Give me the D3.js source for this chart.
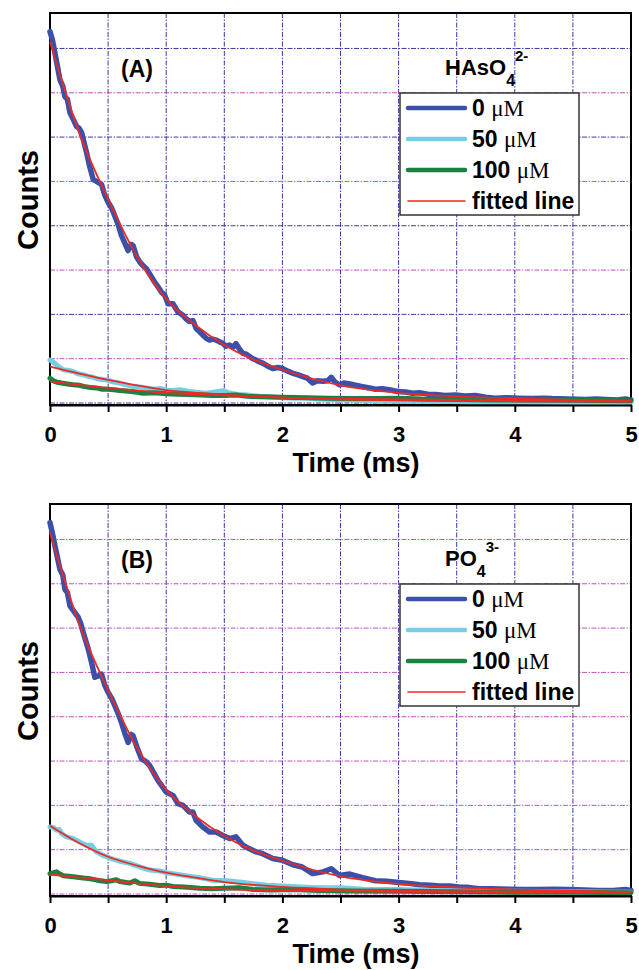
<!DOCTYPE html>
<html>
<head>
<meta charset="utf-8">
<script src="https://cdn.jsdelivr.net/npm/d3@7"></script>
<style>
  body { margin: 0; background: #fff; }
  text { font-family: "Liberation Sans", Arial, sans-serif; font-weight: bold; fill: #000; }
</style>
</head>
<body>
<script>
// tick values / labels
var xTicks = [0, 0.5, 1, 1.5, 2, 2.5, 3, 3.5, 4, 4.5, 5];
var xTickLabels = ["0", "", "1", "", "2", "", "3", "", "4", "", "5"];
var yGridValues = [0, 1, 2, 3, 4, 5, 6, 7, 8];
var legendLabels = ["0 ", "50 ", "100 ", "fitted line"];

// panel (A) HAsO4 2-  : [time ms, counts]
var hasoNone = [[0,8.38],[0.02,8.2],[0.043,7.89],[0.086,7.29],[0.11,7.15],[0.129,6.91],[0.15,6.85],[0.172,6.55],
  [0.2,6.4],[0.229,6.24],[0.25,6.2],[0.272,6.1],[0.3,5.8],[0.315,5.65],[0.34,5.35],[0.372,5.04],[0.4,5.0],
  [0.444,4.93],[0.47,4.7],[0.5,4.53],[0.53,4.4],[0.558,4.22],[0.59,4.0],[0.615,3.78],[0.645,3.6],[0.672,3.44],
  [0.7,3.58],[0.715,3.55],[0.745,3.3],[0.773,3.18],[0.8,3.1],[0.83,3.03],[0.86,2.9],[0.9,2.73],[0.93,2.62],
  [0.96,2.5],[0.987,2.43],[1.016,2.24],[1.058,2.24],[1.1,2.06],[1.144,1.98],[1.17,1.9],[1.2,1.84],[1.23,1.86],
  [1.258,1.68],[1.29,1.6],[1.316,1.53],[1.345,1.46],[1.373,1.42],[1.4,1.44],[1.43,1.42],[1.46,1.38],[1.487,1.35],
  [1.515,1.28],[1.545,1.31],[1.575,1.26],[1.6,1.34],[1.63,1.22],[1.66,1.12],[1.69,1.1],[1.717,1.05],[1.745,1.0],
  [1.774,0.97],[1.8,0.93],[1.83,0.9],[1.875,0.83],[1.917,0.78],[1.96,0.8],[2.0,0.78],[2.045,0.72],[2.09,0.67],
  [2.13,0.64],[2.17,0.6],[2.215,0.56],[2.26,0.45],[2.3,0.5],[2.35,0.49],[2.39,0.5],[2.42,0.58],[2.45,0.48],
  [2.49,0.41],[2.53,0.45],[2.58,0.43],[2.63,0.4],[2.69,0.37],[2.75,0.34],[2.8,0.31],[2.86,0.32],[2.92,0.3],
  [2.99,0.26],[3.06,0.25],[3.12,0.22],[3.18,0.23],[3.25,0.2],[3.32,0.19],[3.4,0.17],[3.49,0.18],[3.57,0.16],
  [3.66,0.17],[3.75,0.13],[3.83,0.11],[3.92,0.12],[4.03,0.11],[4.15,0.1],[4.25,0.11],[4.32,0.1],[4.45,0.09],
  [4.61,0.08],[4.7,0.09],[4.78,0.08],[4.88,0.07],[4.95,0.09],[5.0,0.07]];
var haso50 = [[0,0.97],[0.03,0.92],[0.057,0.86],[0.085,0.8],[0.115,0.75],[0.15,0.74],[0.2,0.71],[0.24,0.66],
  [0.286,0.64],[0.33,0.6],[0.372,0.58],[0.42,0.54],[0.487,0.52],[0.54,0.48],[0.6,0.45],[0.66,0.41],[0.715,0.37],
  [0.77,0.36],[0.83,0.34],[0.9,0.31],[0.95,0.33],[1.0,0.29],[1.06,0.28],[1.12,0.3],[1.2,0.26],[1.28,0.24],
  [1.345,0.22],[1.42,0.25],[1.49,0.28],[1.55,0.22],[1.62,0.19],[1.7,0.18],[1.8,0.15],[1.9,0.14],[2.0,0.12],
  [2.1,0.11],[2.2,0.12],[2.3,0.09],[2.45,0.08],[2.6,0.07],[2.8,0.05],[3.0,0.04],[3.3,0.04],[3.6,0.03],
  [4.0,0.03],[4.5,0.02],[5.0,0.02]];
var haso100 = [[0,0.56],[0.03,0.5],[0.06,0.47],[0.1,0.45],[0.15,0.43],[0.2,0.41],[0.25,0.4],[0.3,0.37],
  [0.35,0.35],[0.4,0.34],[0.45,0.31],[0.5,0.31],[0.55,0.3],[0.6,0.28],[0.65,0.27],[0.7,0.26],[0.75,0.24],
  [0.8,0.22],[0.9,0.23],[1.0,0.21],[1.1,0.2],[1.2,0.19],[1.3,0.18],[1.4,0.17],[1.5,0.17],[1.6,0.18],[1.7,0.15],
  [1.8,0.14],[2.0,0.13],[2.2,0.12],[2.4,0.11],[2.6,0.1],[2.8,0.1],[3.0,0.11],[3.2,0.09],[3.5,0.08],[3.8,0.07],
  [4.0,0.07],[4.5,0.06],[5.0,0.05]];
var hasoFit0 = [[0,8.15],[0.25,6.1],[0.5,4.6],[0.75,3.3],[1,2.35],[1.25,1.76],[1.5,1.31],[1.75,0.98],[2,0.75],
  [2.5,0.4],[3,0.23],[3.5,0.15],[4,0.1],[4.5,0.07],[5,0.05]];
var hasoFit50 = [[0,0.82],[0.5,0.52],[1,0.29],[1.5,0.19],[2,0.12],[2.5,0.08],[3,0.06],[4,0.04],[5,0.03]];
var hasoFit100 = [[0,0.49],[0.5,0.34],[1,0.23],[1.5,0.17],[2,0.12],[2.5,0.1],[3,0.08],[4,0.06],[5,0.05]];

// panel (B) PO4 3-
var phosNone = [[0,8.38],[0.02,8.15],[0.043,7.85],[0.086,7.32],[0.11,7.2],[0.129,6.87],[0.15,6.8],[0.172,6.5],
  [0.2,6.4],[0.243,6.24],[0.265,6.1],[0.286,5.9],[0.33,5.52],[0.36,5.2],[0.386,4.89],[0.415,4.92],[0.444,4.96],
  [0.47,4.72],[0.5,4.55],[0.53,4.42],[0.558,4.25],[0.59,4.05],[0.615,3.87],[0.645,3.62],[0.672,3.42],[0.7,3.6],
  [0.715,3.57],[0.75,3.3],[0.787,3.05],[0.82,3.0],[0.858,2.9],[0.9,2.7],[0.93,2.56],[0.96,2.45],[1.0,2.3],
  [1.06,2.22],[1.1,2.04],[1.144,2.0],[1.2,1.85],[1.23,1.85],[1.258,1.66],[1.316,1.51],[1.373,1.4],[1.43,1.4],
  [1.487,1.32],[1.545,1.25],[1.6,1.29],[1.66,1.1],[1.717,1.02],[1.774,0.95],[1.83,0.91],[1.917,0.8],[2.0,0.76],
  [2.09,0.66],[2.17,0.61],[2.26,0.46],[2.35,0.5],[2.42,0.57],[2.49,0.42],[2.58,0.45],[2.69,0.37],[2.8,0.3],
  [2.9,0.29],[3.0,0.26],[3.09,0.24],[3.18,0.21],[3.27,0.2],[3.35,0.18],[3.44,0.18],[3.52,0.16],[3.6,0.15],
  [3.69,0.12],[3.8,0.12],[3.95,0.11],[4.08,0.1],[4.2,0.1],[4.33,0.11],[4.46,0.1],[4.6,0.09],[4.72,0.08],
  [4.85,0.08],[4.95,0.1],[5.0,0.08]];
var phos50 = [[0,1.51],[0.03,1.5],[0.057,1.44],[0.08,1.46],[0.1,1.36],[0.143,1.29],[0.2,1.25],[0.258,1.17],
  [0.315,1.1],[0.358,1.1],[0.4,0.95],[0.458,0.87],[0.53,0.8],[0.6,0.74],[0.687,0.69],[0.773,0.61],[0.858,0.54],
  [0.944,0.52],[1.0,0.48],[1.06,0.46],[1.17,0.41],[1.29,0.37],[1.4,0.31],[1.52,0.3],[1.63,0.27],[1.75,0.23],
  [1.87,0.2],[2.0,0.18],[2.15,0.16],[2.3,0.14],[2.5,0.14],[2.7,0.11],[3.0,0.1],[3.3,0.08],[3.6,0.07],
  [4.0,0.06],[4.5,0.05],[5.0,0.04]];
var phos100 = [[0,0.46],[0.03,0.48],[0.057,0.5],[0.085,0.45],[0.115,0.41],[0.16,0.4],[0.2,0.39],[0.286,0.36],
  [0.33,0.35],[0.372,0.33],[0.43,0.3],[0.487,0.28],[0.53,0.3],[0.57,0.32],[0.6,0.28],[0.687,0.25],[0.73,0.3],
  [0.77,0.24],[0.858,0.22],[0.944,0.19],[1.0,0.2],[1.06,0.17],[1.15,0.16],[1.29,0.13],[1.4,0.12],[1.5,0.13],
  [1.63,0.14],[1.75,0.1],[1.9,0.09],[2.1,0.1],[2.3,0.08],[2.6,0.07],[3.0,0.06],[3.5,0.05],[4.0,0.04],
  [4.5,0.04],[5.0,0.03]];
var phosFit0 = [[0,8.15],[0.25,6.1],[0.5,4.6],[0.75,3.3],[1,2.35],[1.25,1.76],[1.5,1.31],[1.75,0.98],[2,0.75],
  [2.5,0.4],[3,0.23],[3.5,0.15],[4,0.1],[4.5,0.07],[5,0.05]];
var phosFit50 = [[0,1.54],[0.25,1.15],[0.5,0.84],[0.75,0.64],[1,0.48],[1.25,0.37],[1.5,0.27],[2,0.16],
  [2.5,0.1],[3,0.07],[4,0.05],[5,0.04]];
var phosFit100 = [[0,0.44],[0.5,0.31],[1,0.18],[1.5,0.11],[2,0.08],[3,0.05],[4,0.04],[5,0.03]];

var W = 639, H = 970;
var left = 50, right = 631, plotH = 392;
var blue = "#3b50a8", cyan = "#74cfe2", green = "#1c8040", red = "#ee2a24";
var gridBlue = "#3a3aa8", gridPink = "#c050c0";

var svg = d3.select("body").append("svg").attr("width", W).attr("height", H);

var x = d3.scaleLinear().domain([0, 5]).range([left, right]);

var panels = [
  { top: 13, tag: "(A)", ion: ["HAsO", "4", "2-"],
    series: [hasoNone, haso50, haso100], fits: [hasoFit0, hasoFit50, hasoFit100],
    hColor: function(v) { return v % 2 === 0 ? gridBlue : gridPink; } },
  { top: 504, tag: "(B)", ion: ["PO", "4", "3-"],
    series: [phosNone, phos50, phos100], fits: [phosFit0, phosFit50, phosFit100],
    hColor: function(v) { return gridPink; } }
];

panels.forEach(function(p) {
  var bottom = p.top + plotH;
  var y = d3.scaleLinear().domain([-0.045, 8.8]).range([bottom, p.top]);
  var g = svg.append("g");

  // grid
  g.selectAll(".vgrid").data(xTicks.slice(1, -1)).enter().append("line")
    .attr("x1", function(d) { return x(d); }).attr("x2", function(d) { return x(d); })
    .attr("y1", p.top).attr("y2", bottom)
    .attr("stroke", gridBlue).attr("stroke-width", 1).attr("stroke-dasharray", "5,1.5,1.5,1.5");
  g.selectAll(".hgrid").data(yGridValues).enter().append("line")
    .attr("x1", left).attr("x2", right)
    .attr("y1", function(d) { return y(d); }).attr("y2", function(d) { return y(d); })
    .attr("stroke", function(d) { return p.hColor(d); }).attr("stroke-width", 1)
    .attr("stroke-dasharray", "5,1.5,1.5,1.5");

  // frame
  g.append("rect").attr("x", left).attr("y", p.top).attr("width", right - left).attr("height", plotH)
    .attr("fill", "none").attr("stroke", "#000").attr("stroke-width", 2);

  // x axis
  var ax = g.append("g").attr("transform", "translate(0," + bottom + ")")
    .call(d3.axisBottom(x).tickValues(xTicks).tickSize(7).tickSizeOuter(0).tickPadding(14)
      .tickFormat(function(d, i) { return xTickLabels[i]; }));
  ax.select(".domain").attr("stroke-width", 2);
  ax.selectAll(".tick line").attr("stroke-width", 2);
  ax.selectAll(".tick text").attr("font-size", 22).attr("font-family", null).attr("fill", "#000");
  g.append("text").attr("x", 356).attr("y", bottom + 67).attr("text-anchor", "middle")
    .style("font-size", "27px").text("Time (ms)");

  // y label
  g.append("text").attr("transform", "translate(38," + (p.top + 187) + ") rotate(-90)")
    .attr("text-anchor", "middle").style("font-size", "29px").text("Counts");

  // curves
  var line = d3.line().x(function(d) { return x(d[0]); }).y(function(d) { return y(d[1]); });
  var smooth = d3.line().x(function(d) { return x(d[0]); }).y(function(d) { return y(d[1]); })
    .curve(d3.curveMonotoneX);
  var cols = [blue, cyan, green];
  p.series.forEach(function(s, i) {
    g.append("path").datum(s).attr("d", line).attr("fill", "none").attr("stroke", cols[i])
      .attr("stroke-width", i === 0 ? 5.5 : 5).attr("stroke-linejoin", "round").attr("stroke-linecap", "round");
  });
  p.fits.forEach(function(s) {
    g.append("path").datum(s).attr("d", smooth).attr("fill", "none").attr("stroke", red).attr("stroke-width", 1.8);
  });

  // labels
  g.append("text").attr("x", 137).attr("y", p.top + 64).attr("text-anchor", "middle")
    .style("font-size", "23px").text(p.tag);
  var ion = g.append("text").attr("x", 445).attr("y", p.top + 62).style("font-size", "22px");
  ion.append("tspan").text(p.ion[0]);
  ion.append("tspan").attr("dy", 11).style("font-size", "16px").text(p.ion[1]);
  ion.append("tspan").attr("dy", -25).attr("dx", 0).style("font-size", "15px").text(p.ion[2]);

  // legend
  var lg = g.append("g").attr("transform", "translate(400," + (p.top + 80) + ")");
  lg.append("rect").attr("width", 179).attr("height", 122).attr("fill", "#fff")
    .attr("stroke", "#333").attr("stroke-width", 1.5);
  var lcols = [blue, cyan, green, red];
  legendLabels.forEach(function(lab, i) {
    var ly = 15 + i * 31;
    lg.append("line").attr("x1", 8).attr("x2", 65).attr("y1", ly).attr("y2", ly)
      .attr("stroke", lcols[i]).attr("stroke-width", i < 3 ? 4.5 : 1.6).attr("stroke-linecap", "round");
    var t = lg.append("text").attr("x", 72).attr("y", ly + 8).style("font-size", "23px");
    t.append("tspan").text(lab);
    if (i < 3) t.append("tspan").style("font-family", "'Liberation Serif', 'Times New Roman', serif")
      .style("font-weight", "normal").text("\u03bcM");
  });
});
</script>
</body>
</html>
